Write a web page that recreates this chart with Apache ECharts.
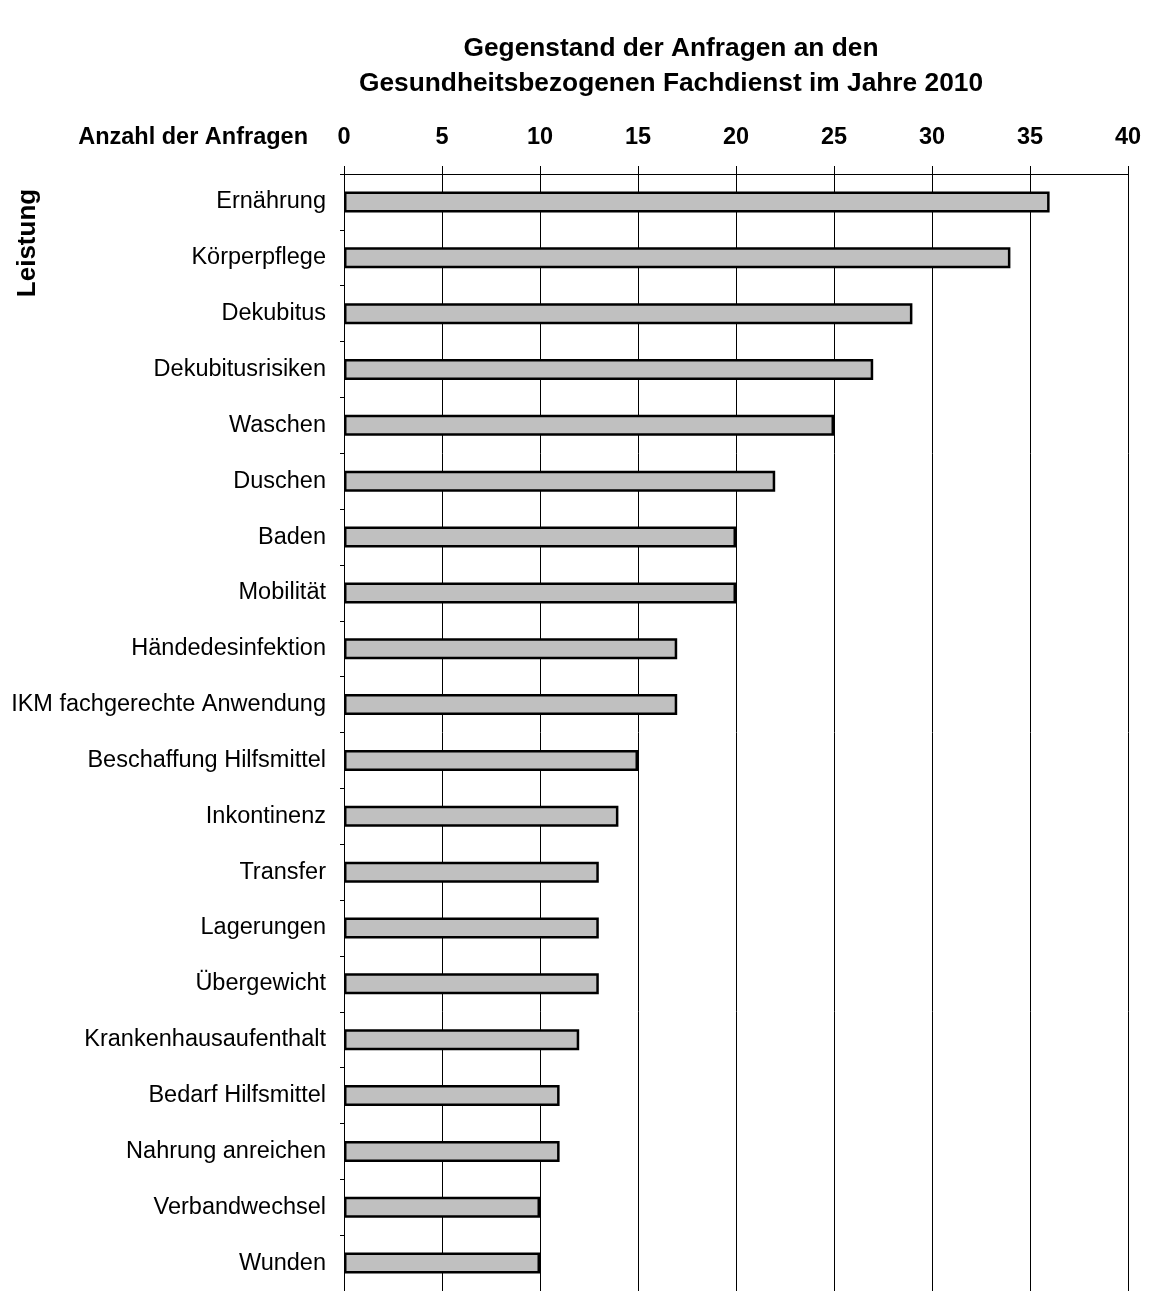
<!DOCTYPE html>
<html><head><meta charset="utf-8">
<script src="https://cdn.jsdelivr.net/npm/echarts@6/dist/echarts.min.js"></script>
<style>html,body{margin:0;padding:0;background:#fff}#c{width:1149px;height:1291px}</style>
</head><body><div id="c"></div>
<script>
const categories = ["Ernährung","Körperpflege","Dekubitus","Dekubitusrisiken","Waschen","Duschen","Baden","Mobilität","Händedesinfektion","IKM fachgerechte Anwendung","Beschaffung Hilfsmittel","Inkontinenz","Transfer","Lagerungen","Übergewicht","Krankenhausaufenthalt","Bedarf Hilfsmittel","Nahrung anreichen","Verbandwechsel","Wunden"];
const values = [36,34,29,27,25,22,20,20,17,17,15,14,13,13,13,12,11,11,10,10];
const titleText = "Gegenstand der Anfragen an den\nGesundheitsbezogenen Fachdienst im Jahre 2010";
const xName = "Anzahl der Anfragen";
const yName = "Leistung";
const FONT = "'Liberation Sans', Arial, sans-serif";

const chart = echarts.init(document.getElementById('c'), null, {renderer:'canvas'});
chart.setOption({
  backgroundColor:'#fff',
  animation:false,
  title:{text:titleText,left:666,top:26,textAlign:'center',
    textStyle:{fontFamily:FONT,fontSize:26.3,fontWeight:'bold',color:'#000',lineHeight:35}},
  graphic:[
    {type:'text',x:308,y:138,style:{text:xName,font:"bold 23.5px 'Liberation Sans', Arial, sans-serif",fill:'#000',textAlign:'right',textVerticalAlign:'middle'}},
    {type:'text',x:28,y:243,rotation:Math.PI/2,style:{text:yName,font:"bold 26px 'Liberation Sans', Arial, sans-serif",fill:'#000',textAlign:'center',textVerticalAlign:'middle'}}
  ],
  grid:{left:344,right:21,top:174,bottom:-4,containLabel:false},
  xAxis:{type:'value',position:'top',min:0,max:40,interval:5,
    axisLine:{show:true,lineStyle:{color:'#000',width:1}},
    axisTick:{show:true,length:8,lineStyle:{color:'#000'}},
    axisLabel:{margin:24,fontFamily:FONT,fontSize:23.5,fontWeight:'bold',color:'#000'},
    splitLine:{show:true,lineStyle:{color:'#000',width:1}}},
  yAxis:{type:'category',data:categories,inverse:true,
    axisLine:{show:true,lineStyle:{color:'#000',width:1}},
    axisTick:{show:true,length:4,lineStyle:{color:'#000'}},
    axisLabel:{margin:18,fontFamily:FONT,fontSize:23.5,color:'#000',padding:[3,0,0,0]}},
  series:[{type:'bar',data:values,barWidth:21,
    itemStyle:{color:'#c0c0c0',borderColor:'#000',borderWidth:2.5}}]
});
</script></body></html>
